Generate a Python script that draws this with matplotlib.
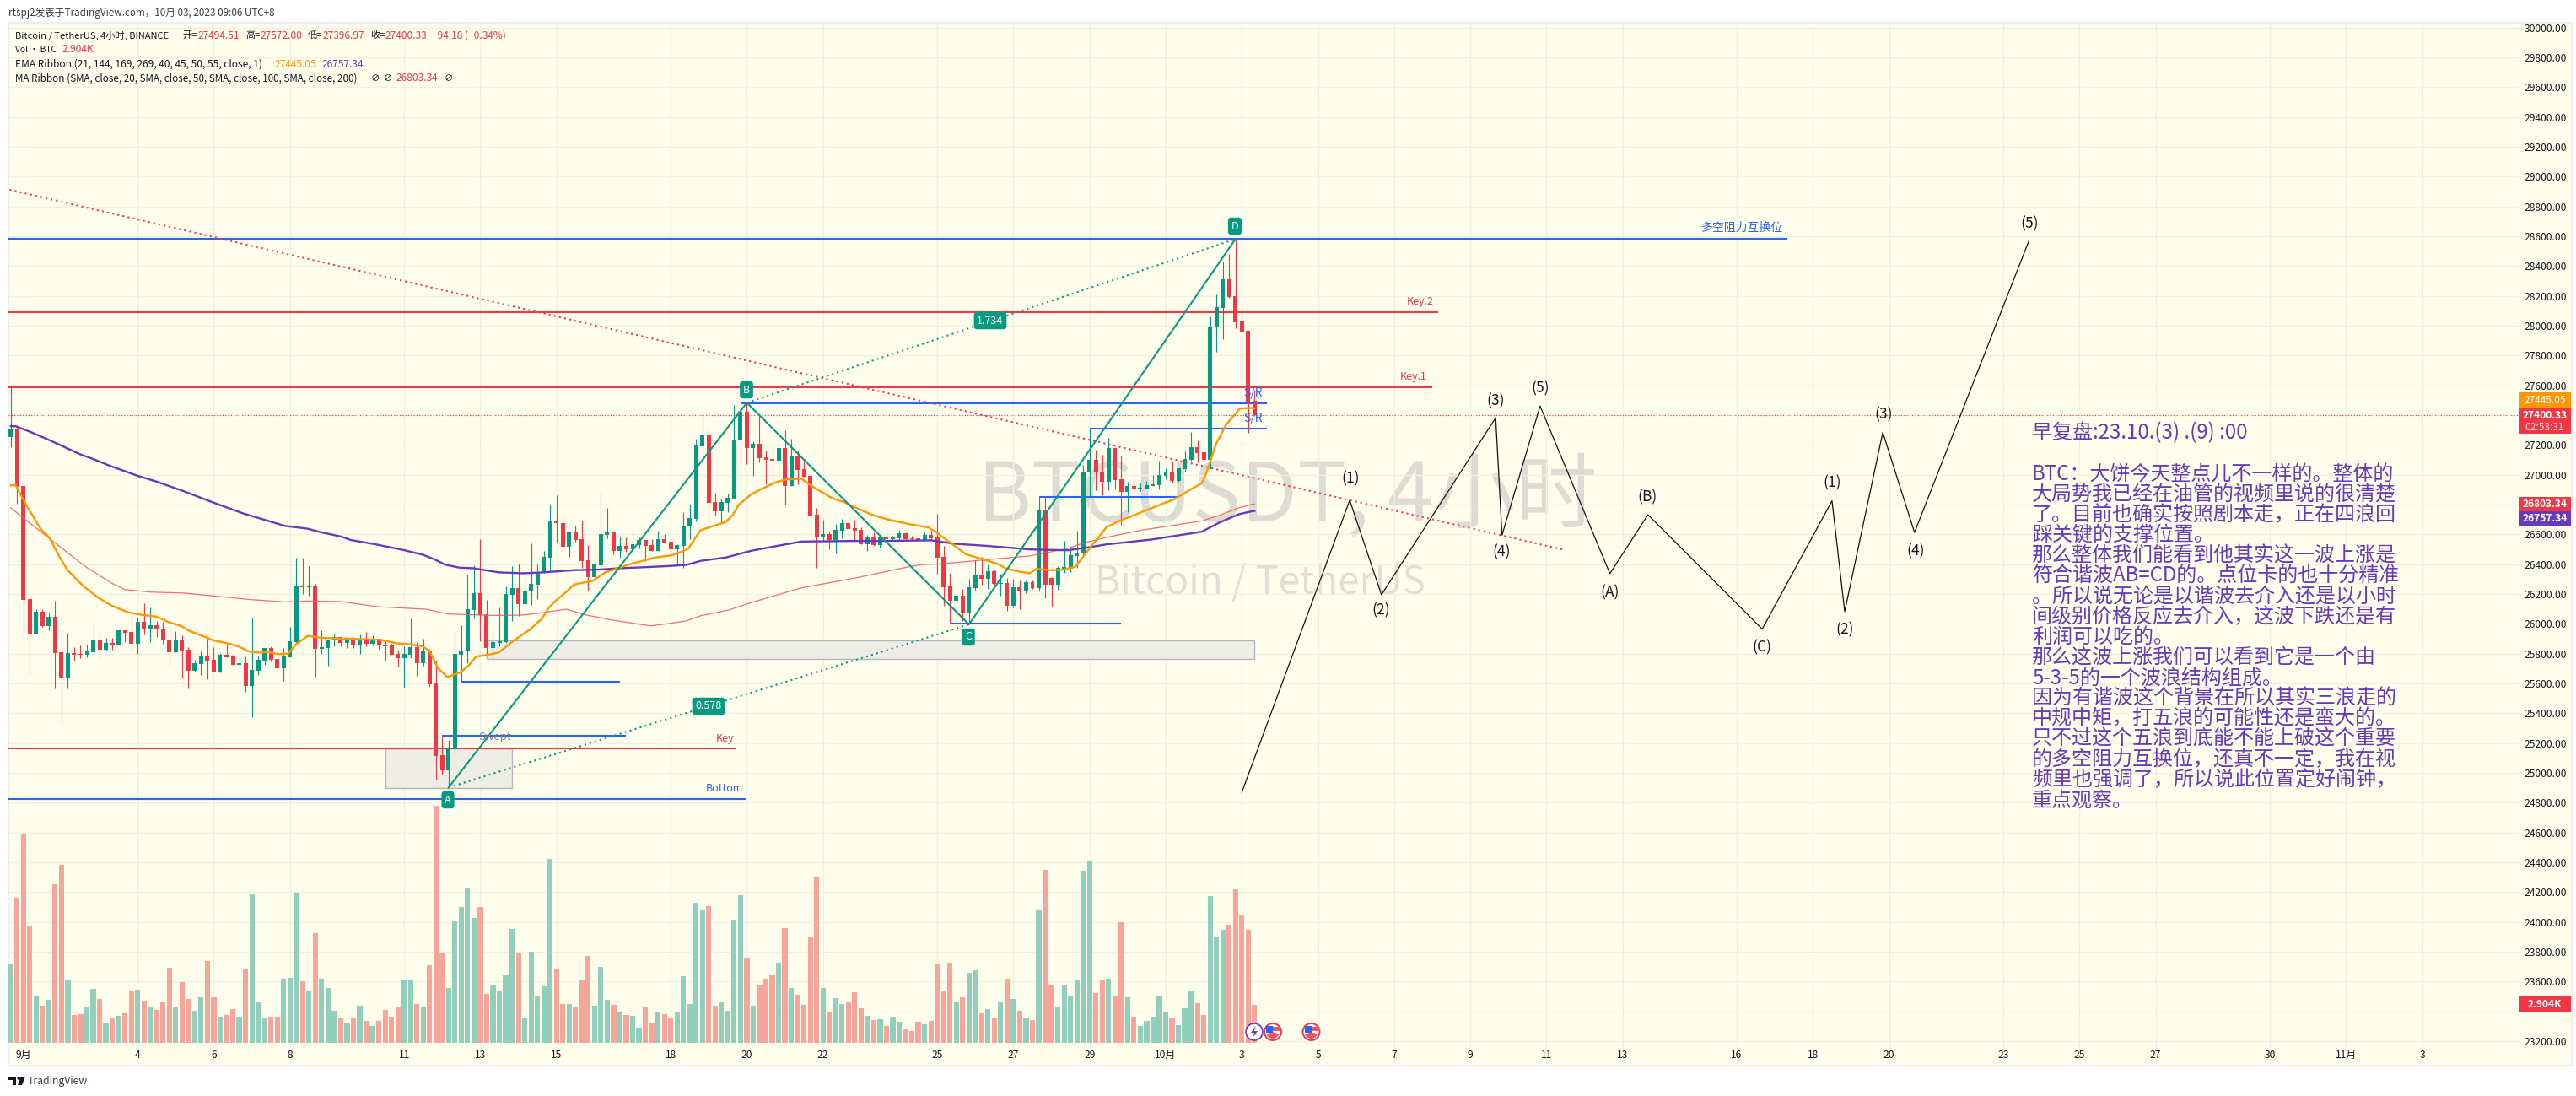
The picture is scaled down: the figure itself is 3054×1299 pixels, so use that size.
import matplotlib
matplotlib.use("Agg")
import matplotlib.pyplot as plt
from matplotlib.patches import Circle, Polygon, Rectangle, Wedge
from matplotlib.transforms import IdentityTransform
import numpy as np

plt.rcParams['font.family'] = ['Noto Sans CJK SC', 'DejaVu Sans']

W, H = 3054, 1299

# 4h candles
opens = [27255,27304,26925,26166,25936,26081,25985,26047,25809,25641,25804,25798,25792,25811,25894,25826,25872,25860,25956,25945,
         25866,26013,25968,25990,25968,25894,25809,25894,25826,25685,25730,25787,25758,25679,25792,25781,25724,25736,25583,25685,
         25753,25838,25764,25702,25775,25877,26257,26245,26257,25832,25838,25889,25911,25871,25886,25860,25894,25866,25900,25860,
         25854,25798,25769,25792,25843,25735,25815,25600,25118,25017,25158,25792,25815,26092,26205,26064,25837,25871,25877,26194,
         26239,26132,26217,26262,26341,26445,26692,26675,26518,26613,26567,26426,26313,26392,26596,26618,26488,26522,26499,26528,
         26562,26528,26488,26567,26550,26500,26522,26652,26703,27190,27269,26817,26754,26811,26839,27230,27422,27179,27207,27117,
         27105,27094,27179,26924,27122,27037,26992,26732,26579,26601,26562,26624,26675,26641,26630,26533,26579,26528,26584,26567,
         26573,26607,26573,26573,26556,26596,26578,26448,26250,26154,26188,26069,26239,26329,26301,26352,26267,26273,26120,26244,
         26216,26278,26239,26765,26307,26261,26369,26369,26454,26471,27014,27099,27020,26952,27178,26969,26884,26924,26901,26907,
         26924,26929,26992,27020,26958,27037,27099,27184,27150,27099,27988,28118,28311,28197,28028,27965,27494.51]
highs = [27587,27317,26925,26194,26096,26096,26075,26153,25962,25940,25843,25855,25860,25990,25940,25906,25906,25956,25956,26087,
         26041,26138,26109,26019,26013,25968,25951,25923,25843,25758,25815,25917,25843,25804,25872,25792,25775,25781,26041,25787,
         25838,25849,25764,25838,25979,26443,26443,26387,26268,25956,25894,25934,25911,25909,25909,25928,25945,25920,25900,25881,
         25864,25826,25849,26035,25877,25900,25832,25751,25249,25220,25951,25990,26330,26392,26568,26160,25985,26109,26251,26387,
         26403,26307,26539,26398,26488,26799,26862,26726,26624,26658,26692,26528,26443,26890,26777,26618,26584,26579,26624,26579,
         26562,26567,26624,26601,26550,26533,26749,26800,27241,27411,27309,26879,26839,26873,27468,27473,27490,27224,27394,27162,
         27196,27235,27298,27241,27162,27105,27015,26777,26698,26618,26669,26703,26743,26698,26647,26596,26613,26584,26596,26590,
         26630,26613,26590,26573,26613,26630,26737,26522,26341,26193,26233,26301,26426,26448,26397,26363,26335,26307,26301,26290,
         26290,26290,26850,26850,26312,26386,26556,26516,26624,27065,27309,27167,27133,27246,27184,27128,26952,26986,26946,26958,
         26997,27094,27043,27088,27043,27156,27286,27229,27156,28062,28209,28430,28480,28577,28124,27965,27572]
lows = [27185,26808,25930,25656,25936,25977,25958,25568,25336,25568,25755,25770,25775,25787,25764,25821,25826,25860,25877,25809,
        25798,25928,25877,25911,25866,25719,25809,25634,25566,25679,25656,25628,25679,25673,25775,25724,25713,25543,25373,25656,
        25724,25747,25690,25617,25775,25860,26200,26189,25645,25798,25719,25849,25849,25837,25837,25798,25849,25854,25826,25752,
        25792,25713,25571,25769,25651,25718,25577,24954,24988,24903,25130,25613,25735,26035,25883,25792,25764,25849,25871,26019,
        26053,26132,26126,26166,26341,26347,26543,26471,26448,26550,26375,26222,26313,26375,26573,26465,26443,26482,26499,26505,
        26420,26488,26488,26545,26465,26398,26375,26567,26686,27128,26630,26726,26669,26749,26839,26879,27071,26992,27083,26935,
        26952,26998,26800,26924,26935,26981,26618,26375,26550,26500,26471,26573,26590,26556,26533,26488,26522,26511,26550,26556,
        26562,26556,26556,26550,26556,26562,26335,26120,26001,26041,26018,26001,26222,26261,26233,26256,26188,26086,26108,26097,
        26205,26233,26222,26171,26114,26227,26341,26346,26375,26460,26850,26895,26861,26895,26901,26663,26748,26867,26890,26907,
        26924,26901,26969,26946,26952,27020,27094,27082,27043,27037,27824,27909,28186,27982,27631,27280,27396.97]
closes = [27304,26921,26162,25936,26081,25983,26047,25806,25641,25804,25792,25792,25815,25894,25826,25872,25860,25956,25940,25866,
          26013,25968,25990,25962,25889,25809,25894,25821,25685,25736,25787,25753,25679,25792,25775,25724,25736,25583,25690,25758,
          25838,25758,25702,25781,25883,26257,26245,26257,25832,25843,25894,25911,25872,25888,25860,25894,25866,25900,25854,25849,
          25792,25769,25798,25843,25735,25815,25594,25113,25017,25164,25798,25820,26098,26205,26058,25837,25877,25883,26200,26239,
          26132,26222,26268,26347,26449,26692,26675,26518,26613,26562,26422,26313,26398,26602,26618,26488,26522,26499,26533,26562,
          26522,26488,26567,26545,26499,26528,26658,26709,27196,27269,26811,26754,26817,26845,27235,27422,27179,27207,27111,27100,
          27094,27179,26924,27122,27032,26986,26726,26579,26601,26562,26630,26675,26635,26624,26533,26579,26528,26584,26567,26579,
          26607,26567,26567,26556,26596,26573,26443,26244,26154,26188,26069,26244,26329,26301,26352,26267,26273,26120,26244,26216,
          26278,26239,26765,26261,26261,26375,26380,26460,26477,27020,27099,27014,26952,27178,26963,26884,26924,26901,26912,26929,
          26935,26997,27020,26958,27043,27105,27184,27144,27099,27994,28124,28311,28192,28022,27960,27490,27400.33]

# volume in thousand BTC
volume = [5.98,11.08,15.98,8.95,3.59,2.82,3.27,12.11,13.59,4.75,2.11,2.17,2.75,4.11,3.33,1.53,1.85,2.04,2.24,3.91,
          4.04,3.20,2.69,2.49,3.14,5.72,2.69,4.62,3.33,2.43,3.46,6.24,3.46,1.98,2.11,2.56,1.98,5.59,11.40,3.14,
          1.85,1.98,1.98,4.88,4.95,11.46,4.69,3.91,8.37,4.88,4.17,2.43,1.91,1.46,1.85,2.82,1.66,1.27,1.66,2.49,
          1.98,2.75,4.75,4.82,2.95,2.75,5.91,18.11,6.88,4.17,9.27,10.37,11.85,9.53,10.37,3.72,4.37,3.91,5.20,8.69,
          6.82,1.91,6.95,3.53,4.30,14.04,5.66,2.95,2.95,2.75,4.82,6.62,2.82,5.78,3.27,2.88,2.37,2.11,2.04,1.14,
          2.69,1.53,2.30,2.17,1.85,2.30,5.08,2.95,10.69,10.11,10.43,2.82,3.08,2.43,9.40,11.27,6.49,2.82,4.43,4.88,
          5.14,6.11,8.75,4.17,3.66,2.88,8.04,12.69,4.17,2.30,3.40,2.95,3.08,3.85,2.62,2.04,1.72,1.78,1.27,1.98,
          1.59,1.08,0.88,1.59,1.40,1.66,6.04,3.91,6.11,3.14,3.46,5.33,5.53,2.24,2.56,1.91,3.08,4.88,3.33,2.43,
          1.91,1.72,10.17,13.20,4.37,2.69,4.37,3.59,4.75,13.14,13.85,3.78,4.82,4.88,3.59,9.20,3.46,1.98,1.27,1.66,
          1.98,3.53,2.37,1.85,1.33,2.62,3.91,3.01,2.11,11.20,8.04,8.62,9.01,11.72,9.72,8.62,2.904]

# ribbons: bar index, price
ema21_idx = [0,0.75,1.6,2.7,4.7,6.1,7.8,8.9,10.7,11.8,13.6,15.8,18.5,20.7,22.9,24.9,26.9,28,30.8,31.9,33.9,35.9,37.5,38.8,40.6,42.3,43.7,45,46.8,49,51.6,
             54.7,58.3,60.9,62.7,64.9,66,67.3,68.8,70.9,72.2,73.3,75.1,76.9,79.1,81.7,83.7,84.8,85.9,87.5,88.8,90.1,91.7,93.7,95.7,97.7,99.9,101.6,103.9,
             104.7,106.7,108.7,112.7,113.8,114.7,116.7,118.4,120.7,122.4,124.6,126,129.5,131.3,133.5,135.7,137.9,141.5,144.6,145.7,148.1,150.5,
             152.7,155.6,156.7,158.9,160.6,161.6,163.8,165.8,167.8,169.8,172.7,174.9,178,181,183.3,185.9,187.7,188.6,189.9,191.5,193.7,195.7,196]
ema21_val = [26928,26932,26864,26779,26638,26577,26440,26364,26283,26241,26181,26124,26077,26060,26049,26011,25985,25955,25909,25889,25872,25849,25815,25807,25811,25796,25800,25864,25919,25906,25902,
             25898,25892,25869,25864,25849,25817,25703,25643,25675,25722,25779,25792,25807,25883,25958,26034,26109,26156,26213,26264,26275,26288,26345,26373,26402,26426,26445,26458,
             26467,26501,26628,26684,26732,26798,26869,26907,26952,26969,26973,26930,26841,26817,26773,26732,26703,26669,26647,26618,26543,26467,
             26439,26401,26373,26350,26339,26369,26360,26363,26384,26495,26650,26693,26746,26797,26835,26901,26943,27033,27203,27335,27445,27448,27445.05]
ema144_idx = [0,0.8,3,5.8,8.3,10.9,13.1,15.8,19.8,22.9,27.3,31.7,36.6,38.8,43.2,46.8,49,52.1,
              53.6,57.4,61.8,64.9,66.7,68.5,70.7,72.9,76.9,80.8,83.9,88.8,92.8,95.9,99.4,103.9,
              106.5,108.7,112.7,116.7,120.7,124.6,132.6,137,145,148.8,154.1,160.7,166.5,170,172.7,179.7,187.7,190.4,193.5,195.7,196]
ema144_val = [27326,27325,27289,27238,27189,27138,27104,27057,26996,26955,26889,26817,26741,26713,26657,26638,26613,26585,
              26562,26534,26496,26464,26434,26396,26377,26373,26345,26339,26345,26360,26364,26373,26379,26388,
              26396,26422,26445,26490,26522,26552,26556,26556,26560,26537,26522,26499,26493,26514,26533,26565,26618,26678,26735,26756,26757.34]
ma100_idx = [0,1.6,6.1,11.8,15.8,18,22,27.3,34.4,37.9,43.2,46.8,52.1,57.8,65.4,68.9,76,80.4,83.9,87.5,90.6,95,100.8,103.9,
             106.5,108.7,113.1,116.7,124.6,133.5,141.5,143.7,146.8,155.6,160.7,166.5,169.1,172.7,178,187.7,190.4,193.5,195.7,196]
ma100_val = [26779,26723,26572,26383,26275,26230,26213,26206,26177,26162,26147,26153,26149,26115,26098,26066,26056,26058,26075,26098,26060,26024,25986,26003,
             26020,26054,26092,26143,26241,26311,26383,26398,26403,26437,26456,26505,26543,26580,26627,26690,26727,26778,26803,26803.34]

# drawn levels: price, first bar, last bar, colour
levels = [(28584, -1, 280, 'blue'), (28090, -1, 225, 'red'), (27587, -1, 224, 'red'),
          (27479, 115, 198, 'blue'), (27309, 170, 198, 'blue'), (26851, 162, 184, 'blue'),
          (26002, 148, 175, 'blue'), (25611, 71, 96, 'blue'), (25251, 68, 97, 'blue'),
          (25164, -1, 114.4, 'red'), (24824, -1, 116, 'blue')]
# grey boxes: first bar, last bar, low, high
boxes = [(75, 196, 25766, 25887), (59, 79, 24896, 25164)]

# AB=CD points
abcd_idx = [69, 116, 151, 193]
abcd_val = [24902, 27483, 25996, 28581]
trend_idx = [-1, 245]
trend_val = [28920, 26494]

# projected wave count
wave_idx = [194, 211, 216, 234, 235, 241, 252, 258, 276, 287, 289, 295, 300, 318]
wave_val = [24870, 26829, 26195, 27382, 26595, 27461, 26337, 26732, 25965, 26825, 26082, 27284, 26613, 28566]
wave_labels = ['(1)', '(2)', '(3)', '(4)', '(5)', '(A)', '(B)', '(C)', '(1)', '(2)', '(3)', '(4)', '(5)']
wave_label_pos = [(1601, 567.5), (1637.6, 723.7), (1773.6, 475), (1780.5, 654.8), (1826, 460.8), (1908.5, 701.9),
                  (1953, 589.7), (2089, 767.7), (2172.6, 572.5), (2187.5, 746.6), (2233, 491.8), (2270.8, 652.9), (2405.7, 265.6)]

# x axis: label and bar index of the date
date_labels = ['9月', '4', '6', '8', '11', '13', '15', '18', '20', '22', '25', '27', '29',
               '10月', '3', '5', '7', '9', '11', '13', '16', '18', '20', '23', '25', '27', '30', '11月', '3']
date_days = [1, 4, 6, 8, 11, 13, 15, 18, 20, 22, 25, 27, 29, 31, 33, 35, 37, 39, 41, 43, 46, 48, 50, 53, 55, 57, 60, 62, 64]

price_ticks = list(range(23200, 30001, 200))
hidden_ticks = [23400, 26800, 27400]

notes = ['早复盘:23.10.(3) .(9) :00', '',
         'BTC：大饼今天整点儿不一样的。整体的',
         '大局势我已经在油管的视频里说的很清楚',
         '了。目前也确实按照剧本走，正在四浪回',
         '踩关键的支撑位置。',
         '那么整体我们能看到他其实这一波上涨是',
         '符合谐波AB=CD的。点位卡的也十分精准',
         '。所以说无论是以谐波去介入还是以小时',
         '间级别价格反应去介入，这波下跌还是有',
         '利润可以吃的。',
         '那么这波上涨我们可以看到它是一个由',
         '5-3-5的一个波浪结构组成。',
         '因为有谐波这个背景在所以其实三浪走的',
         '中规中矩，打五浪的可能性还是蛮大的。',
         '只不过这个五浪到底能不能上破这个重要',
         '的多空阻力互换位，还真不一定，我在视',
         '频里也强调了，所以说此位置定好闹钟，',
         '重点观察。']

GREEN = '#089981'
RED = '#F23645'
BLUE = '#2962FF'
ORANGE = '#FF9800'
PURPLE = '#673AB7'
PANE = '#FFFEEC'
GRID = '#F1F0E3'
DARK = '#131722'


def ptext(x, y, s, **kw):
    # text placed by pixel position of the screenshot
    kw.setdefault('va', 'center')
    kw.setdefault('ha', 'left')
    kw.setdefault('fontsize', 8.6)
    kw.setdefault('color', DARK)
    kw.setdefault('zorder', 6)
    return fig.text(x / W, 1 - y / H, s, **kw)


def prect(x0, y0, x1, y1, **kw):
    fig.add_artist(Rectangle((x0, H - y1), x1 - x0, y1 - y0, transform=IdentityTransform(), **kw))


def pxy(x, y):
    return (x, H - y)


fig = plt.figure(figsize=(W / 100, H / 100), dpi=100, facecolor='white')
prect(10, 27, 3049, 1263, facecolor=PANE, edgecolor='#EEEEEE', linewidth=1.5, zorder=0)

pos = [10 / W, 1 - 1263 / H, (2986 - 10) / W, (1263 - 27) / H]
ax = fig.add_axes(pos, zorder=1)
ax.patch.set_visible(False)
ax_vol = fig.add_axes(pos, zorder=2)
ax_vol.patch.set_visible(False)
ax_vol.axis('off')

x = np.arange(len(opens))
o, h, l, c = map(np.array, (opens, highs, lows, closes))
up = c >= o
colors = np.where(up, GREEN, RED)

ax.set_xlim(-0.36, 395.2)
ax.set_ylim(23036, 30032)
ax_vol.set_xlim(-0.36, 395.2)
ax_vol.set_ylim(-27.3 / 15.5, 1208.7 / 15.5)

for sp in ax.spines.values():
    sp.set_visible(False)
ax.yaxis.tick_right()
ax.set_yticks(price_ticks)
ax.set_yticklabels(['' if p in hidden_ticks else '%.2f' % p for p in price_ticks], fontsize=8.7, color=DARK)
date_pos = [2 + 6 * (d - 1) for d in date_days]
ax.set_xticks(date_pos)
ax.set_xticklabels(date_labels, fontsize=8.7, color=DARK)
ax.tick_params(axis='both', length=0)
ax.tick_params(axis='y', pad=5)
ax.tick_params(axis='x', pad=-14)
ax.grid(True, color=GRID, linewidth=1.0)
ax.set_axisbelow(True)

# watermark
ptext(1159, 618, 'BTCUSDT, 4小时', va='baseline', fontsize=70, color='#DCDCD3', zorder=0.5)
ptext(1298, 703, 'Bitcoin / TetherUS', va='baseline', fontsize=33, color='#E0DFD6', zorder=0.5)

# volume
vol_colors = np.where(up, '#92CEBC', '#F7A59B')
ax_vol.bar(x, volume, width=0.82, color=vol_colors, linewidth=0)

# boxes and levels
for b0, b1, lo, hi in boxes:
    ax.add_patch(Rectangle((b0, lo), b1 - b0, hi - lo, facecolor='#EFEEE6', edgecolor='#B2B5BE', linewidth=1, zorder=2))
for price, b0, b1, col in levels:
    ax.plot([b0, b1], [price, price], color=BLUE if col == 'blue' else RED, linewidth=1.5, zorder=2.2, solid_capstyle='butt')

# candles
ax.vlines(x, l, h, colors=colors, linewidth=0.8, zorder=3)
ax.bar(x, np.abs(c - o), bottom=np.minimum(o, c), width=0.66, color=colors, linewidth=0, zorder=3.1)

# ribbons
ax.plot(ma100_idx, ma100_val, color='#F2525F', linewidth=0.9, alpha=0.85, zorder=3.3)
ax.plot(ema144_idx, ema144_val, color=PURPLE, linewidth=1.7, zorder=3.4)
ax.plot(ema21_idx, ema21_val, color=ORANGE, linewidth=1.7, zorder=3.5)

# last price
ax.axhline(closes[-1], color=RED, linewidth=0.8, linestyle=(0, (1, 2)), zorder=3.2)

# trend line and AB=CD
ax.plot(trend_idx, trend_val, color='#F7325C', linewidth=1.5, linestyle=(0, (1, 2)), zorder=3.2)
ax.plot(abcd_idx, abcd_val, color=GREEN, linewidth=1.5, zorder=3.6)
ax.plot(abcd_idx[::2], abcd_val[::2], color=GREEN, linewidth=1.5, linestyle=(0, (1, 2)), zorder=3.6)
ax.plot(abcd_idx[1::2], abcd_val[1::2], color=GREEN, linewidth=1.5, linestyle=(0, (1, 2)), zorder=3.6)

# projected waves
ax.plot(wave_idx, wave_val, color='#111111', linewidth=0.9, zorder=3.7)
for lab, (px_, py_) in zip(wave_labels, wave_label_pos):
    ptext(px_, py_, lab, ha='center', fontsize=12.5)

# tags on the drawing
for lab, px_, py_ in [('A', 531, 948), ('B', 885, 462), ('C', 1148, 755), ('D', 1464, 268),
                      ('1.734', 1174, 380), ('0.578', 840, 837)]:
    ptext(px_, py_, lab, ha='center', fontsize=9, color='white',
          bbox=dict(boxstyle='round,pad=0.3,rounding_size=0.3', facecolor=GREEN, edgecolor='none'))

ptext(2114, 270, '多空阻力互换位', ha='right', fontsize=10, color=BLUE)
ptext(1700, 358, 'Key.2', ha='right', fontsize=9, color=RED)
ptext(1692, 447, 'Key.1', ha='right', fontsize=9, color=RED)
ptext(1486, 466, 'S/R', ha='center', fontsize=10, color=BLUE)
ptext(1486, 496, 'S/R', ha='center', fontsize=10, color=BLUE)
ptext(587, 874, 'Swept', ha='center', fontsize=9.5, color='#787B86')
ptext(859, 875, 'Key', ha='center', fontsize=9, color=RED)
ptext(859, 935, 'Bottom', ha='center', fontsize=9, color=BLUE)

# notes
for n, line in enumerate(notes):
    if line:
        ptext(2409, 513.5 + 24.15 * n, line, fontsize=17.3, color=PURPLE)

# price tags
for y0, y1, col, lab in [(465, 483, ORANGE, '27445.05'), (589, 606, RED, '26803.34'),
                         (606, 623, PURPLE, '26757.34'), (1181, 1199, RED, '2.904K')]:
    prect(2986, y0, 3048, y1, facecolor=col, edgecolor='none', zorder=5)
    ptext(3017, (y0 + y1) / 2, lab, ha='center', color='white', fontweight='bold' if col != ORANGE else 'normal')
prect(2986, 483, 3048, 514, facecolor=RED, edgecolor='none', zorder=5)
ptext(3017, 492, '27400.33', ha='center', color='white', fontweight='bold')
ptext(3017, 507, '02:53:31', ha='center', color='#FFDADD')

# header and legend
ptext(10, 15, 'rtspj2发表于TradingView.com，10月 03, 2023 09:06 UTC+8', fontsize=8.4, color='#3A3D46')
ptext(18, 42, 'Bitcoin / TetherUS, 4小时, BINANCE', fontsize=8)
for lab, px_ in [('开=', 216), ('高=', 291), ('低=', 365), ('收=', 439)]:
    ptext(px_, 42, lab, fontsize=8)
for lab, px_ in [('27494.51', 235), ('27572.00', 309), ('27396.97', 383), ('27400.33', 457), ('−94.18 (−0.34%)', 512)]:
    ptext(px_, 42, lab, color=RED)
ptext(18, 59, 'Vol · BTC', fontsize=7.4)
ptext(74, 59, '2.904K', color=RED)
ptext(18, 76, 'EMA Ribbon (21, 144, 169, 269, 40, 45, 50, 55, close, 1)')
ptext(325.5, 76, '27445.05', color=ORANGE)
ptext(381.6, 76, '26757.34', color=PURPLE)
ptext(18, 93, 'MA Ribbon (SMA, close, 20, SMA, close, 50, SMA, close, 100, SMA, close, 200)', fontsize=8.4)
ptext(440, 93, '∅', fontsize=7.5)
ptext(455, 93, '∅', fontsize=7.5)
ptext(470, 93, '26803.34', color=RED)
ptext(527, 93, '∅', fontsize=7.5)

# event markers
fig.add_artist(Circle(pxy(1487, 1223), 10, transform=IdentityTransform(), facecolor='white', edgecolor=PURPLE, linewidth=1.2, zorder=5))
fig.add_artist(Polygon([pxy(1489, 1216), pxy(1483, 1224), pxy(1487, 1224), pxy(1485, 1230), pxy(1491, 1222), pxy(1487, 1222)],
                       transform=IdentityTransform(), facecolor=PURPLE, edgecolor='none', zorder=5.1))
for cx in [1509, 1554.5]:
    fig.add_artist(Circle(pxy(cx, 1223), 10, transform=IdentityTransform(), facecolor='white', edgecolor=RED, linewidth=1.4, zorder=5))
    fig.add_artist(Wedge(pxy(cx, 1223), 8, 200, 340, transform=IdentityTransform(), facecolor='#F7525F', edgecolor='none', zorder=5.1))
    prect(cx - 8, 1217, cx + 8, 1222, facecolor='#F7525F', edgecolor='none', zorder=5.1)
    prect(cx - 8, 1216, cx, 1224, facecolor='#2962FF', edgecolor='none', zorder=5.2)

# TradingView logo
prect(10, 1276, 19, 1280, facecolor=DARK, edgecolor='none', zorder=5)
prect(14.5, 1276, 19, 1286, facecolor=DARK, edgecolor='none', zorder=5)
fig.add_artist(Circle(pxy(22.5, 1278), 2, transform=IdentityTransform(), facecolor=DARK, edgecolor='none', zorder=5))
fig.add_artist(Polygon([pxy(25, 1276), pxy(30, 1276), pxy(26, 1286), pxy(21, 1286)], transform=IdentityTransform(),
                       facecolor=DARK, edgecolor='none', zorder=5))
ptext(33, 1281, 'TradingView', fontsize=8.8, color='#3A3D46')

fig.savefig('out.png', dpi=100, facecolor='white')
